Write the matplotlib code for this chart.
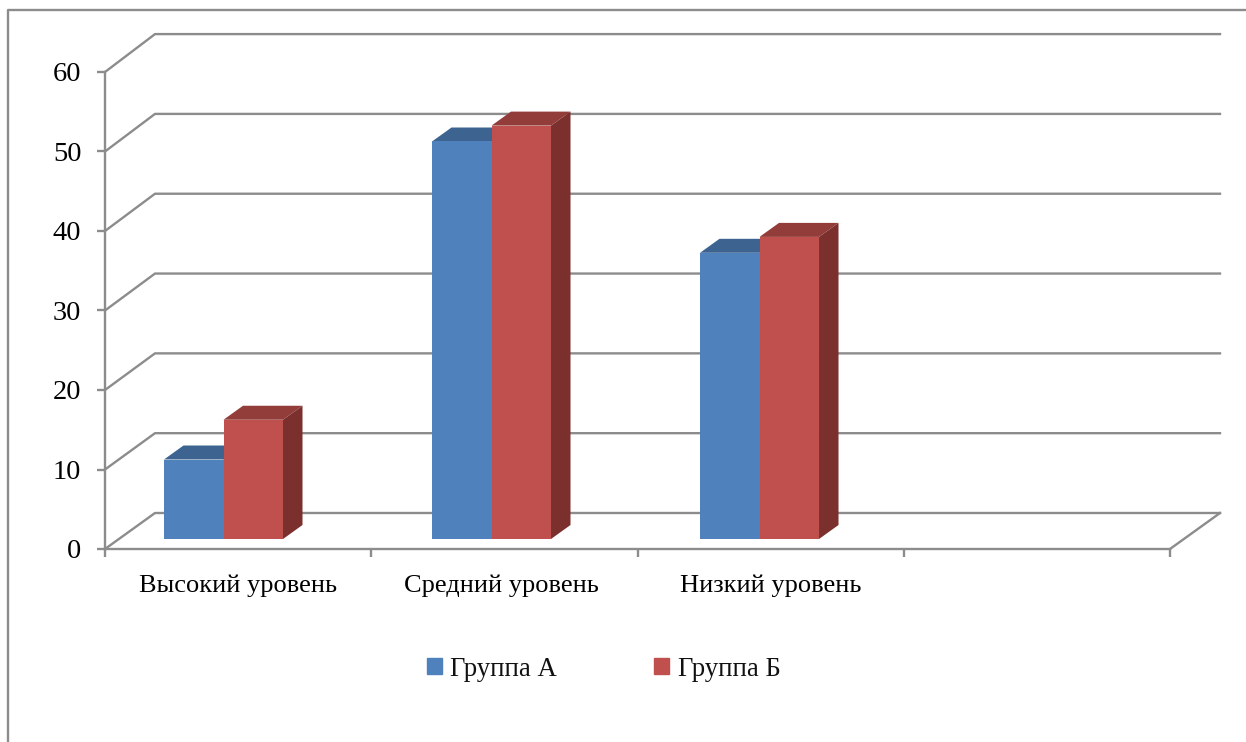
import numpy as np
from matplotlib import pyplot as plt
from matplotlib.lines import Line2D
from matplotlib.patches import Patch

categories = ["Высокий уровень", "Средний уровень", "Низкий уровень", ""]
group_a = [10, 50, 36]
group_b = [15, 52, 38]
yticks = [0, 10, 20, 30, 40, 50, 60]

W, H = 1246, 742
GRID = "#8c8c8c"
LW = 1.7
plt.rcParams["font.family"] = ["Liberation Serif", "DejaVu Serif"]

fig = plt.figure(figsize=(W / 100, H / 100), dpi=100)
# оси = передняя плоскость диаграммы, в пикселях 105..1170 и 72..549
ax = fig.add_axes([105 / W, 1 - 549 / H, (1170 - 105) / W, (549 - 72) / H])
ax.set_xlim(0, 4)
ax.set_ylim(0, 60)

px = 4 / (1170 - 105)
py = 60 / (549 - 72)

# внешняя рамка, только слева и сверху
fig.add_artist(Line2D([8 / W, 8 / W, 1], [0, 1 - 10 / H, 1 - 10 / H], color=GRID, lw=LW))

# задняя стенка и пол
wall_x = 50 * px
wall_y = 36 * py
for v in yticks:
    back = v * 1.004 + wall_y
    ax.plot([0, wall_x, 4 + wall_x], [v, back, back], color=GRID, lw=LW, clip_on=False, zorder=1,
            solid_joinstyle="round")
ax.plot([4, 4 + wall_x], [0, wall_y], color=GRID, lw=LW, clip_on=False, zorder=1)

# столбики
bar_w = 59.5 * px
depth_x = 19.5 * px
depth_y = 14 * py
base = 10 * py
left = 0.2216 + 1.0066 * np.arange(len(group_a))


def draw_bars(x, values, front, top, side, z):
    tops = base + np.array(values)
    ax.bar(x, values, width=bar_w, bottom=base, align="edge", color=front, zorder=z + 0.2)
    for x0, t in zip(x, tops):
        ax.fill([x0, x0 + depth_x, x0 + bar_w + depth_x, x0 + bar_w],
                [t, t + depth_y, t + depth_y, t], color=top, lw=0, zorder=z, clip_on=False)
        ax.fill([x0 + bar_w, x0 + bar_w + depth_x, x0 + bar_w + depth_x, x0 + bar_w],
                [base, base + depth_y, t + depth_y, t], color=side, lw=0, zorder=z, clip_on=False)


draw_bars(left, group_a, "#4f81bd", "#3d6491", "#34557c", 2)
draw_bars(left + bar_w, group_b, "#c0504d", "#933d3b", "#7c302e", 3)

for name in ["top", "right"]:
    ax.spines[name].set_visible(False)
for name in ["left", "bottom"]:
    ax.spines[name].set_color(GRID)
    ax.spines[name].set_linewidth(LW)
ax.patch.set_visible(False)

ax.set_yticks(yticks)
ax.set_xticks(range(5))
ax.set_xticklabels([])
ax.set_xticks([0.5, 1.489, 2.5, 3.5], categories, minor=True)
ax.tick_params(axis="y", length=6, width=LW, color=GRID, labelsize=20.5, pad=11)
ax.tick_params(axis="x", which="major", length=6, width=LW, color=GRID)
ax.tick_params(axis="x", which="minor", length=0, labelsize=19, pad=18.5)

handles = [Patch(color="#4f81bd", label="Группа А"), Patch(color="#c0504d", label="Группа Б")]
fig.legend(handles=handles, ncol=2, loc="center", bbox_to_anchor=(603.5 / W, 1 - 669 / H), frameon=False,
           fontsize=19.3, handlelength=0.56, handleheight=0.56, handletextpad=0.3, columnspacing=3.65,
           labelcolor="#111111")

fig.savefig("out.png", dpi=100)
